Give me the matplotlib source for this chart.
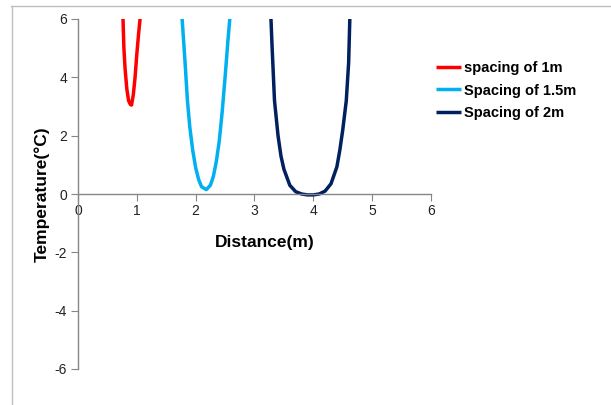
import matplotlib
matplotlib.use("Agg")
import matplotlib.pyplot as plt
from matplotlib.lines import Line2D

plt.rcParams['font.family'] = ['Liberation Sans', 'DejaVu Sans']
plt.rcParams['axes.unicode_minus'] = False

# Data
x_1m = [0.70, 0.74, 0.765, 0.78, 0.80, 0.83, 0.86, 0.89, 0.91, 0.94, 0.97, 1.00, 1.03, 1.055, 1.08]
y_1m = [9.0, 7.2, 6.0, 5.0, 4.3, 3.6, 3.2, 3.07, 3.05, 3.4, 4.0, 4.8, 5.5, 6.0, 7.0]

x_15m = [1.72, 1.77, 1.82, 1.86, 1.90, 1.95, 2.00, 2.05, 2.10, 2.18, 2.25, 2.30, 2.35, 2.40, 2.45, 2.50, 2.55, 2.58, 2.62]
y_15m = [7.8, 6.0, 4.5, 3.2, 2.3, 1.5, 0.9, 0.5, 0.25, 0.15, 0.3, 0.6, 1.1, 1.8, 2.8, 4.0, 5.3, 6.0, 7.5]

x_2m = [3.25, 3.28, 3.30, 3.34, 3.40, 3.45, 3.50, 3.60, 3.70, 3.80, 3.90, 4.00, 4.10, 4.20, 4.30, 4.40, 4.45, 4.50, 4.56, 4.60, 4.62, 4.65]
y_2m = [7.5, 6.0, 5.0, 3.2, 2.0, 1.3, 0.85, 0.3, 0.08, 0.0, -0.03, -0.03, 0.0, 0.1, 0.35, 0.93, 1.5, 2.2, 3.2, 4.5, 6.0, 7.5]

series_labels = ["spacing of 1m", "Spacing of 1.5m", "Spacing of 2m"]
series_colors = ["#FF0000", "#00B0F0", "#002060"]

x_ticks = [0, 1, 2, 3, 4, 5, 6]
y_ticks = [-6, -4, -2, 0, 2, 4, 6]

W, H = 611, 405
fig = plt.figure(figsize=(W / 100, H / 100), dpi=100)
ax = fig.add_axes([78 / W, 1 - 369 / H, (431 - 78) / W, (369 - 19) / H])

for xs, ys, lab, col in zip([x_1m, x_15m, x_2m], [y_1m, y_15m, y_2m], series_labels, series_colors):
    ax.plot(xs, ys, color=col, lw=2.5, label=lab, solid_capstyle='butt')

ax.set_xlim(0, 6)
ax.set_ylim(-6, 6)
ax.spines['top'].set_visible(False)
ax.spines['right'].set_visible(False)
ax.spines['bottom'].set_position(('data', 0))
for s in ['left', 'bottom']:
    ax.spines[s].set_color('#868686')
    ax.spines[s].set_linewidth(1.0)
ax.set_xticks(x_ticks)
ax.set_yticks(y_ticks)
ax.tick_params(axis='both', colors='#868686', labelcolor='#222222', labelsize=10, length=5, direction='out')
ax.tick_params(axis='x', pad=2)
ax.tick_params(axis='y', pad=3)

ax.set_ylabel("Temperature(°C)", fontsize=12.5, fontweight='bold')
ax.yaxis.set_label_coords((50 - 78) / (431 - 78), 0.5)
fig.text(265 / W, 1 - 243 / H, "Distance(m)", fontsize=12.5, fontweight='bold', ha='center', va='center')

leg = fig.legend(loc='upper left', bbox_to_anchor=(430 / W, 1 - 55 / H), frameon=False,
                 prop={'size': 10.5, 'weight': 'bold'}, handlelength=1.75, handletextpad=0.2,
                 labelspacing=0.6, borderaxespad=0)

# chart area frame
fig.add_artist(Line2D([11 / W, 1.0], [1 - 5.5 / H, 1 - 5.5 / H], color='#BFBFBF', lw=1, transform=fig.transFigure))
fig.add_artist(Line2D([11.5 / W, 11.5 / W], [0, 1 - 5.5 / H], color='#BFBFBF', lw=1, transform=fig.transFigure))

fig.savefig("out.png", dpi=100)
